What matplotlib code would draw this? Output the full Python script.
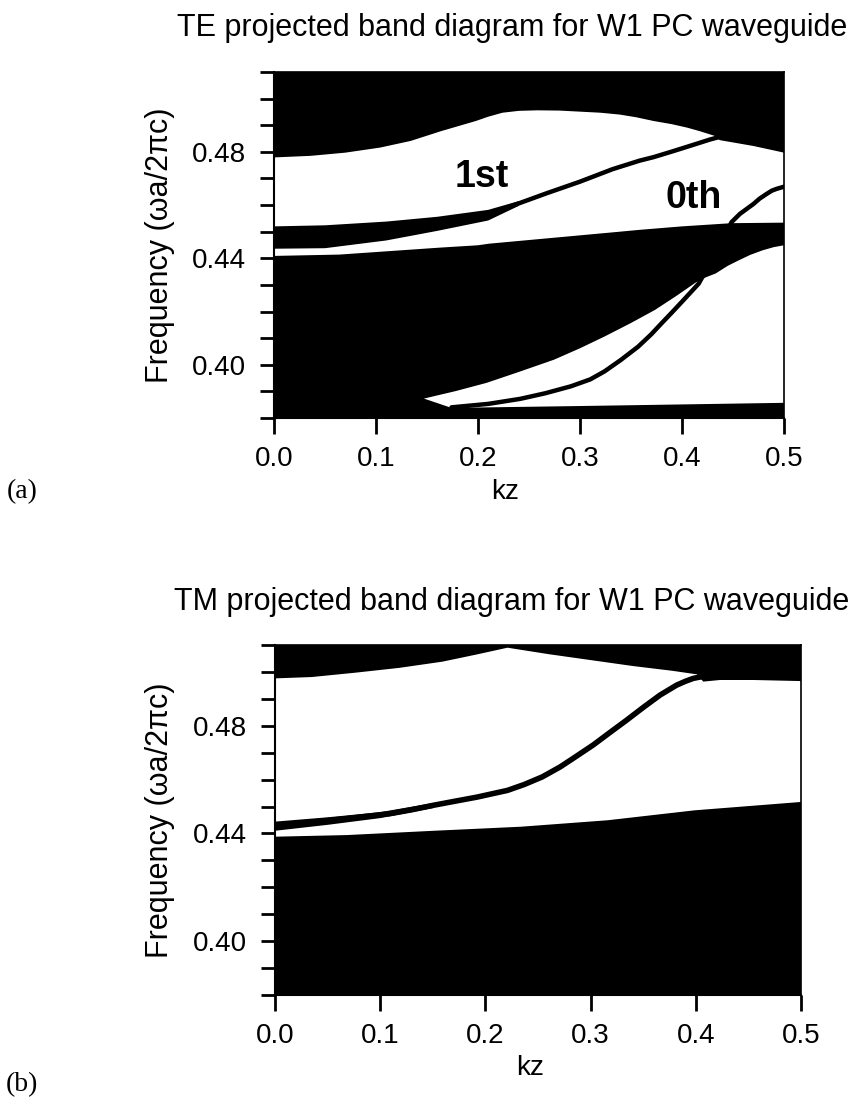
import matplotlib
matplotlib.use('Agg')
import matplotlib.pyplot as plt
import numpy as np

plt.rcParams['font.family'] = ['Liberation Sans', 'DejaVu Sans']

W, H = 861, 1113

# ---------------- TE (a) ----------------
# upper edge of the big gap
te_top_k = [0, 0.036, 0.070, 0.104, 0.134, 0.164, 0.198, 0.210, 0.224, 0.240, 0.258, 0.280,
            0.300, 0.320, 0.339, 0.355, 0.372, 0.390, 0.405, 0.418, 0.432, 0.437, 0.470, 0.5]
te_top_f = [0.4779, 0.4785, 0.4797, 0.4816, 0.4841, 0.4878, 0.4916, 0.4932, 0.4947, 0.4954, 0.4956, 0.4955,
            0.4951, 0.4947, 0.4940, 0.4930, 0.4916, 0.4904, 0.4891, 0.4877, 0.4860, 0.4844, 0.4822, 0.4797]
# top of the lower continuum
te_cont_k = [0, 0.064, 0.113, 0.162, 0.200, 0.211, 0.339, 0.3585, 0.400, 0.4486, 0.5]
te_cont_f = [0.4409, 0.4414, 0.4427, 0.4440, 0.4449, 0.4455, 0.4500, 0.4507, 0.4520, 0.4532, 0.4534]
# lower white pocket
te_pocket_top_k = [0.147, 0.178, 0.2084, 0.240, 0.2745, 0.300, 0.324, 0.350, 0.3735, 0.395, 0.4131,
                   0.423, 0.433, 0.445, 0.456, 0.467, 0.479, 0.490, 0.5]
te_pocket_top_f = [0.3873, 0.3901, 0.3932, 0.3973, 0.4019, 0.4062, 0.4106, 0.4157, 0.4206, 0.4260, 0.4308,
                   0.4328, 0.4343, 0.4372, 0.4393, 0.4413, 0.4430, 0.4442, 0.4449]
te_pocket_bot_k = [0.147, 0.174, 0.300, 0.5]
te_pocket_bot_f = [0.3873, 0.3838, 0.3845, 0.3857]
# thick start of the 1st mode
te_band_k = [0, 0.05, 0.11, 0.16, 0.21, 0.24]
te_band_top = [0.4520, 0.4524, 0.4538, 0.4556, 0.4582, 0.4615]
te_band_bot = [0.4436, 0.4438, 0.4467, 0.4503, 0.4542, 0.4597]
# 1st mode
te_m1_k = [0.22, 0.234, 0.267, 0.300, 0.332, 0.3585, 0.372, 0.390, 0.405, 0.428, 0.436]
te_m1_f = [0.4575, 0.4598, 0.4644, 0.4688, 0.4735, 0.4767, 0.4780, 0.4801, 0.4819, 0.4847, 0.4855]
# 0th mode
te_m0_k = [0.174, 0.210, 0.2415, 0.266, 0.291, 0.310, 0.324, 0.340, 0.357, 0.370, 0.380, 0.390,
           0.400, 0.4164, 0.433, 0.4486, 0.4568, 0.470, 0.476, 0.483, 0.488, 0.4928, 0.5]
te_m0_f = [0.3840, 0.3853, 0.3872, 0.3893, 0.3919, 0.3945, 0.3975, 0.4018, 0.4068, 0.4115, 0.4156, 0.4196,
           0.4237, 0.4305, 0.4420, 0.4536, 0.4567, 0.4604, 0.4624, 0.4642, 0.4654, 0.4661, 0.4669]

# ---------------- TM (b) ----------------
tm_top_k = [0, 0.035, 0.076, 0.118, 0.159, 0.192, 0.221, 0.260, 0.300, 0.340, 0.378, 0.401,
            0.4071, 0.423, 0.4547, 0.5]
tm_top_f = [0.4976, 0.4981, 0.4997, 0.5015, 0.5038, 0.5065, 0.5090, 0.5066, 0.5044, 0.5022, 0.5004, 0.4991,
            0.4964, 0.4970, 0.4970, 0.4966]
tm_cont_k = [0, 0.068, 0.151, 0.2335, 0.316, 0.399, 0.5]
tm_cont_f = [0.4388, 0.4394, 0.4410, 0.4425, 0.4449, 0.4486, 0.4517]
tm_band_k = [0, 0.05, 0.10, 0.15]
tm_band_top = [0.4444, 0.4460, 0.4479, 0.4513]
tm_band_bot = [0.4410, 0.4432, 0.4457, 0.4494]
tm_m_k = [0.0, 0.030, 0.068, 0.110, 0.130, 0.151, 0.170, 0.192, 0.221, 0.237, 0.254, 0.271, 0.285,
          0.3026, 0.318, 0.3343, 0.350, 0.366, 0.3818, 0.390, 0.3976, 0.404, 0.410]
tm_m_f = [0.4427, 0.4440, 0.4455, 0.4474, 0.4488, 0.4505, 0.4519, 0.4535, 0.4560, 0.4582, 0.4610, 0.4647, 0.4683,
          0.4729, 0.4774, 0.4821, 0.4868, 0.4914, 0.4951, 0.4965, 0.4976, 0.4981, 0.4985]

kz_ticks = [0.0, 0.1, 0.2, 0.3, 0.4, 0.5]
f_ticks = [0.40, 0.44, 0.48]
f_minor = [0.38, 0.39, 0.40, 0.41, 0.42, 0.43, 0.44, 0.45, 0.46, 0.47, 0.48, 0.49, 0.50, 0.51]


def fill_between_curves(ax, k_up, f_up, k_lo, f_lo, color):
    xs = np.concatenate([np.array(k_up), np.array(k_lo)[::-1]])
    ys = np.concatenate([np.array(f_up), np.array(f_lo)[::-1]])
    ax.fill(xs, ys, color=color, lw=0, zorder=2)


def setup_axes(ax):
    ax.set_facecolor('black')
    ax.set_xlim(0, 0.5)
    ax.set_ylim(0.38, 0.51)
    ax.set_xticks(kz_ticks)
    ax.set_xticklabels(['%.1f' % v for v in kz_ticks])
    ax.set_yticks(f_ticks)
    ax.set_yticklabels(['%.2f' % v for v in f_ticks])
    ax.set_yticks(f_minor, minor=True)
    ax.tick_params(axis='x', which='both', direction='out', length=11.5, width=2,
                   labelsize=20, pad=9)
    ax.tick_params(axis='y', which='both', direction='out', length=10, width=2,
                   labelsize=20, pad=10)
    for s in ['left', 'bottom']:
        ax.spines[s].set_linewidth(1.5)
    for s in ['right', 'top']:
        ax.spines[s].set_linewidth(1.2)
    for s in ax.spines.values():
        s.set_zorder(5)


fig = plt.figure(figsize=(W / 100, H / 100), dpi=100)

# panel (a)
ax1 = fig.add_axes([274 / W, 1 - 418 / H, 510 / W, 346 / H])
setup_axes(ax1)
fill_between_curves(ax1, te_top_k, te_top_f, te_cont_k, te_cont_f, 'white')
fill_between_curves(ax1, te_pocket_top_k, te_pocket_top_f, te_pocket_bot_k, te_pocket_bot_f, 'white')
fill_between_curves(ax1, te_band_k, te_band_top, te_band_k, te_band_bot, 'black')
ax1.plot(te_m1_k, te_m1_f, color='black', lw=3.2, solid_capstyle='round',
         solid_joinstyle='round', zorder=3)
ax1.plot(te_m0_k, te_m0_f, color='black', lw=3.2, solid_capstyle='round',
         solid_joinstyle='round', zorder=3)
ax1.text(0.2033, 0.4707, '1st', fontsize=27, fontweight='bold', ha='center', va='center', zorder=4)
ax1.text(0.4116, 0.4628, '0th', fontsize=27, fontweight='bold', ha='center', va='center', zorder=4)

# panel (b)
ax2 = fig.add_axes([275 / W, 1 - 995 / H, 526 / W, 350 / H])
setup_axes(ax2)
fill_between_curves(ax2, tm_top_k, tm_top_f, tm_cont_k, tm_cont_f, 'white')
fill_between_curves(ax2, tm_band_k, tm_band_top, tm_band_k, tm_band_bot, 'black')
ax2.plot(tm_m_k, tm_m_f, color='black', lw=4.0, solid_capstyle='round',
         solid_joinstyle='round', zorder=3)

# titles and labels
fig.text(512 / W, 1 - 36 / H, 'TE projected band diagram for W1 PC waveguide',
         fontsize=22, ha='center', va='baseline')
fig.text(512 / W, 1 - 610 / H, 'TM projected band diagram for W1 PC waveguide',
         fontsize=22, ha='center', va='baseline')
fig.text(160 / W, 1 - 245 / H, 'Frequency (ωa/2πc)', fontsize=22, rotation=90,
         ha='center', va='center')
fig.text(160 / W, 1 - 820 / H, 'Frequency (ωa/2πc)', fontsize=22, rotation=90,
         ha='center', va='center')
fig.text(505 / W, 1 - 492 / H, 'kz', fontsize=20, ha='center', va='center')
fig.text(530 / W, 1 - 1068 / H, 'kz', fontsize=20, ha='center', va='center')
fig.text(22 / W, 1 - 492 / H, '(a)', fontsize=20, family='Liberation Serif', ha='center', va='center')
fig.text(22 / W, 1 - 1085 / H, '(b)', fontsize=20, family='Liberation Serif', ha='center', va='center')

fig.savefig('out.png', dpi=100)
